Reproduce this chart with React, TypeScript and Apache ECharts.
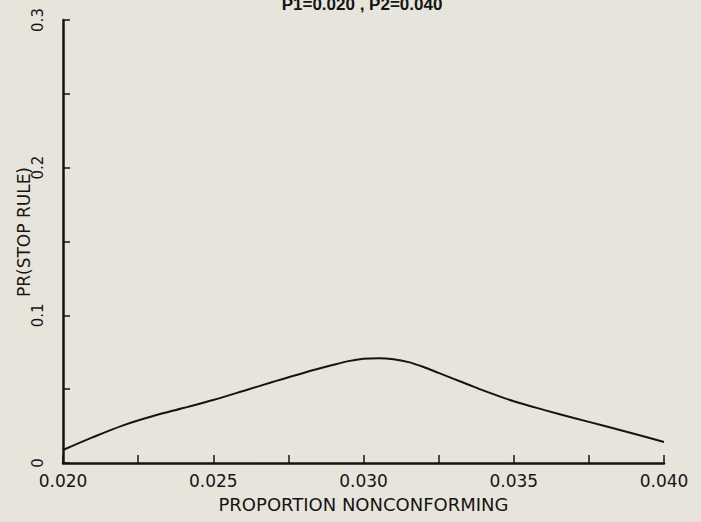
import React, { useEffect, useRef } from "react";
import * as echarts from "echarts";

const titleText = "P1=0.020 , P2=0.040";
const xName = "PROPORTION NONCONFORMING";
const yName = "PR(STOP RULE)";
const xValues = [0.020, 0.021, 0.022, 0.023, 0.024, 0.025, 0.026, 0.027, 0.028, 0.029, 0.0295, 0.030, 0.0305, 0.031, 0.0315, 0.032, 0.0325, 0.033, 0.0335, 0.034, 0.035, 0.036, 0.037, 0.038, 0.039, 0.040];
const yValues = [0.0088, 0.0175, 0.0255, 0.0318, 0.0372, 0.0427, 0.0488, 0.0550, 0.0610, 0.0665, 0.0690, 0.0706, 0.0710, 0.0703, 0.0683, 0.0650, 0.0610, 0.0570, 0.0530, 0.0490, 0.0418, 0.0360, 0.0305, 0.0252, 0.0198, 0.0142];

const ink = "#141414";
const font = "DejaVu Sans";

export default function App() {
  const ref = useRef<HTMLDivElement>(null);
  useEffect(() => {
    if (!ref.current) return;
    const chart = echarts.init(ref.current, null, { renderer: "svg" });
    chart.setOption({
      animation: false,
      backgroundColor: "#e7e5db",
      graphic: [
        {
          type: "text",
          x: 362,
          y: -4,
          style: {
            text: titleText,
            fill: ink,
            font: "bold 17px 'Liberation Sans', sans-serif",
            textAlign: "center",
            textVerticalAlign: "top",
          },
        },
        {
          type: "text",
          x: 24,
          y: 232,
          rotation: Math.PI / 2,
          style: {
            text: yName,
            fill: ink,
            font: `17px '${font}', sans-serif`,
            textAlign: "center",
            textVerticalAlign: "middle",
          },
        },
      ],
      grid: { left: 63, right: 37, top: 20, bottom: 59, outerBoundsMode: "none" },
      xAxis: {
        type: "value",
        min: 0.02,
        max: 0.04,
        interval: 0.005,
        name: xName,
        nameLocation: "middle",
        nameGap: 32,
        nameTextStyle: { color: ink, fontFamily: font, fontSize: 18 },
        axisLine: { show: true, lineStyle: { color: ink, width: 2.5 } },
        axisTick: { show: true, inside: true, length: 8, lineStyle: { color: ink, width: 1.5 } },
        minorTick: { show: true, splitNumber: 2, length: 8, lineStyle: { color: ink, width: 1.5 } },
        splitLine: { show: false },
        axisLabel: {
          color: ink,
          fontFamily: font,
          fontSize: 17,
          margin: 9,
          formatter: (v: number) => v.toFixed(3),
        },
      },
      yAxis: {
        type: "value",
        min: 0,
        max: 0.3,
        interval: 0.1,
        axisLine: { show: true, lineStyle: { color: ink, width: 2.5 } },
        axisTick: { show: true, inside: true, length: 7, lineStyle: { color: ink, width: 1.5 } },
        minorTick: { show: true, splitNumber: 2, length: 7, lineStyle: { color: ink, width: 1.5 } },
        splitLine: { show: false },
        axisLabel: {
          color: ink,
          fontFamily: font,
          fontSize: 15,
          rotate: 90,
          margin: 18,
          formatter: (v: number) => (v === 0 ? "0" : v.toFixed(1)),
        },
      },
      series: [
        {
          type: "line",
          data: xValues.map((x, i) => [x, yValues[i]]),
          smooth: 0.3,
          showSymbol: false,
          lineStyle: { color: ink, width: 2 },
        },
      ],
    });
    return () => chart.dispose();
  }, []);
  return <div ref={ref} style={{ position: "fixed", left: 0, top: 0, width: 701, height: 522 }} />;
}
